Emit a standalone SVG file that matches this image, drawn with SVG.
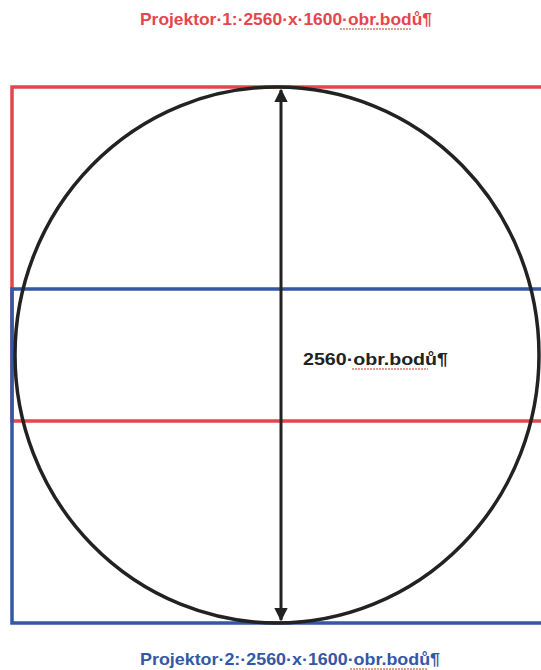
<svg xmlns="http://www.w3.org/2000/svg" width="541" height="670" viewBox="0 0 541 670">
<style>
.t{font-family:"Liberation Sans",Arial,sans-serif;font-weight:bold;font-size:17px;}
.red{stroke:#e4464c;fill:none;stroke-width:3.5}
.blue{stroke:#3457a6;fill:none;stroke-width:3.5}
.sq{stroke:#c0392b;stroke-width:1;fill:none;stroke-dasharray:2 1}
</style>
<defs>
<marker id="ah" viewBox="0 0 10 10" refX="9" refY="5" markerWidth="4.5" markerHeight="4.5" orient="auto-start-reverse">
<path d="M0,0 L10,5 L0,10 z" fill="#222"/>
</marker>
</defs>
<rect width="541" height="670" fill="#ffffff"/>
<g id="projektor1">
<path class="red" d="M545,87 H12 V421 H545"/>
</g>
<g id="projektor2">
<path class="blue" d="M545,289 H12 V623 H545"/>
</g>
<g id="circle">
<ellipse cx="277" cy="355" rx="262" ry="268" fill="none" stroke="#222" stroke-width="3.5"/>
</g>
<g id="connectors">
<line x1="281" y1="90" x2="281" y2="620" stroke="#222" stroke-width="3" marker-start="url(#ah)" marker-end="url(#ah)"/>
</g>
<g id="label-top">
<text class="t" x="140" y="25" fill="#e4464c" textLength="292" lengthAdjust="spacingAndGlyphs">Projektor·1:·2560·x·1600·obr.bodů¶</text>
<line class="sq" x1="340" y1="29" x2="412" y2="29"/>
</g>
<g id="label-bottom">
<text class="t" x="140" y="665" fill="#3457a6" textLength="300" lengthAdjust="spacingAndGlyphs">Projektor·2:·2560·x·1600·obr.bodů¶</text>
<line class="sq" x1="350" y1="669" x2="428" y2="669"/>
</g>
<g id="label-center">
<text class="t" x="303" y="365" fill="#222" textLength="145" lengthAdjust="spacingAndGlyphs">2560·obr.bodů¶</text>
<line class="sq" x1="352" y1="369" x2="428" y2="369"/>
</g>
</svg>
